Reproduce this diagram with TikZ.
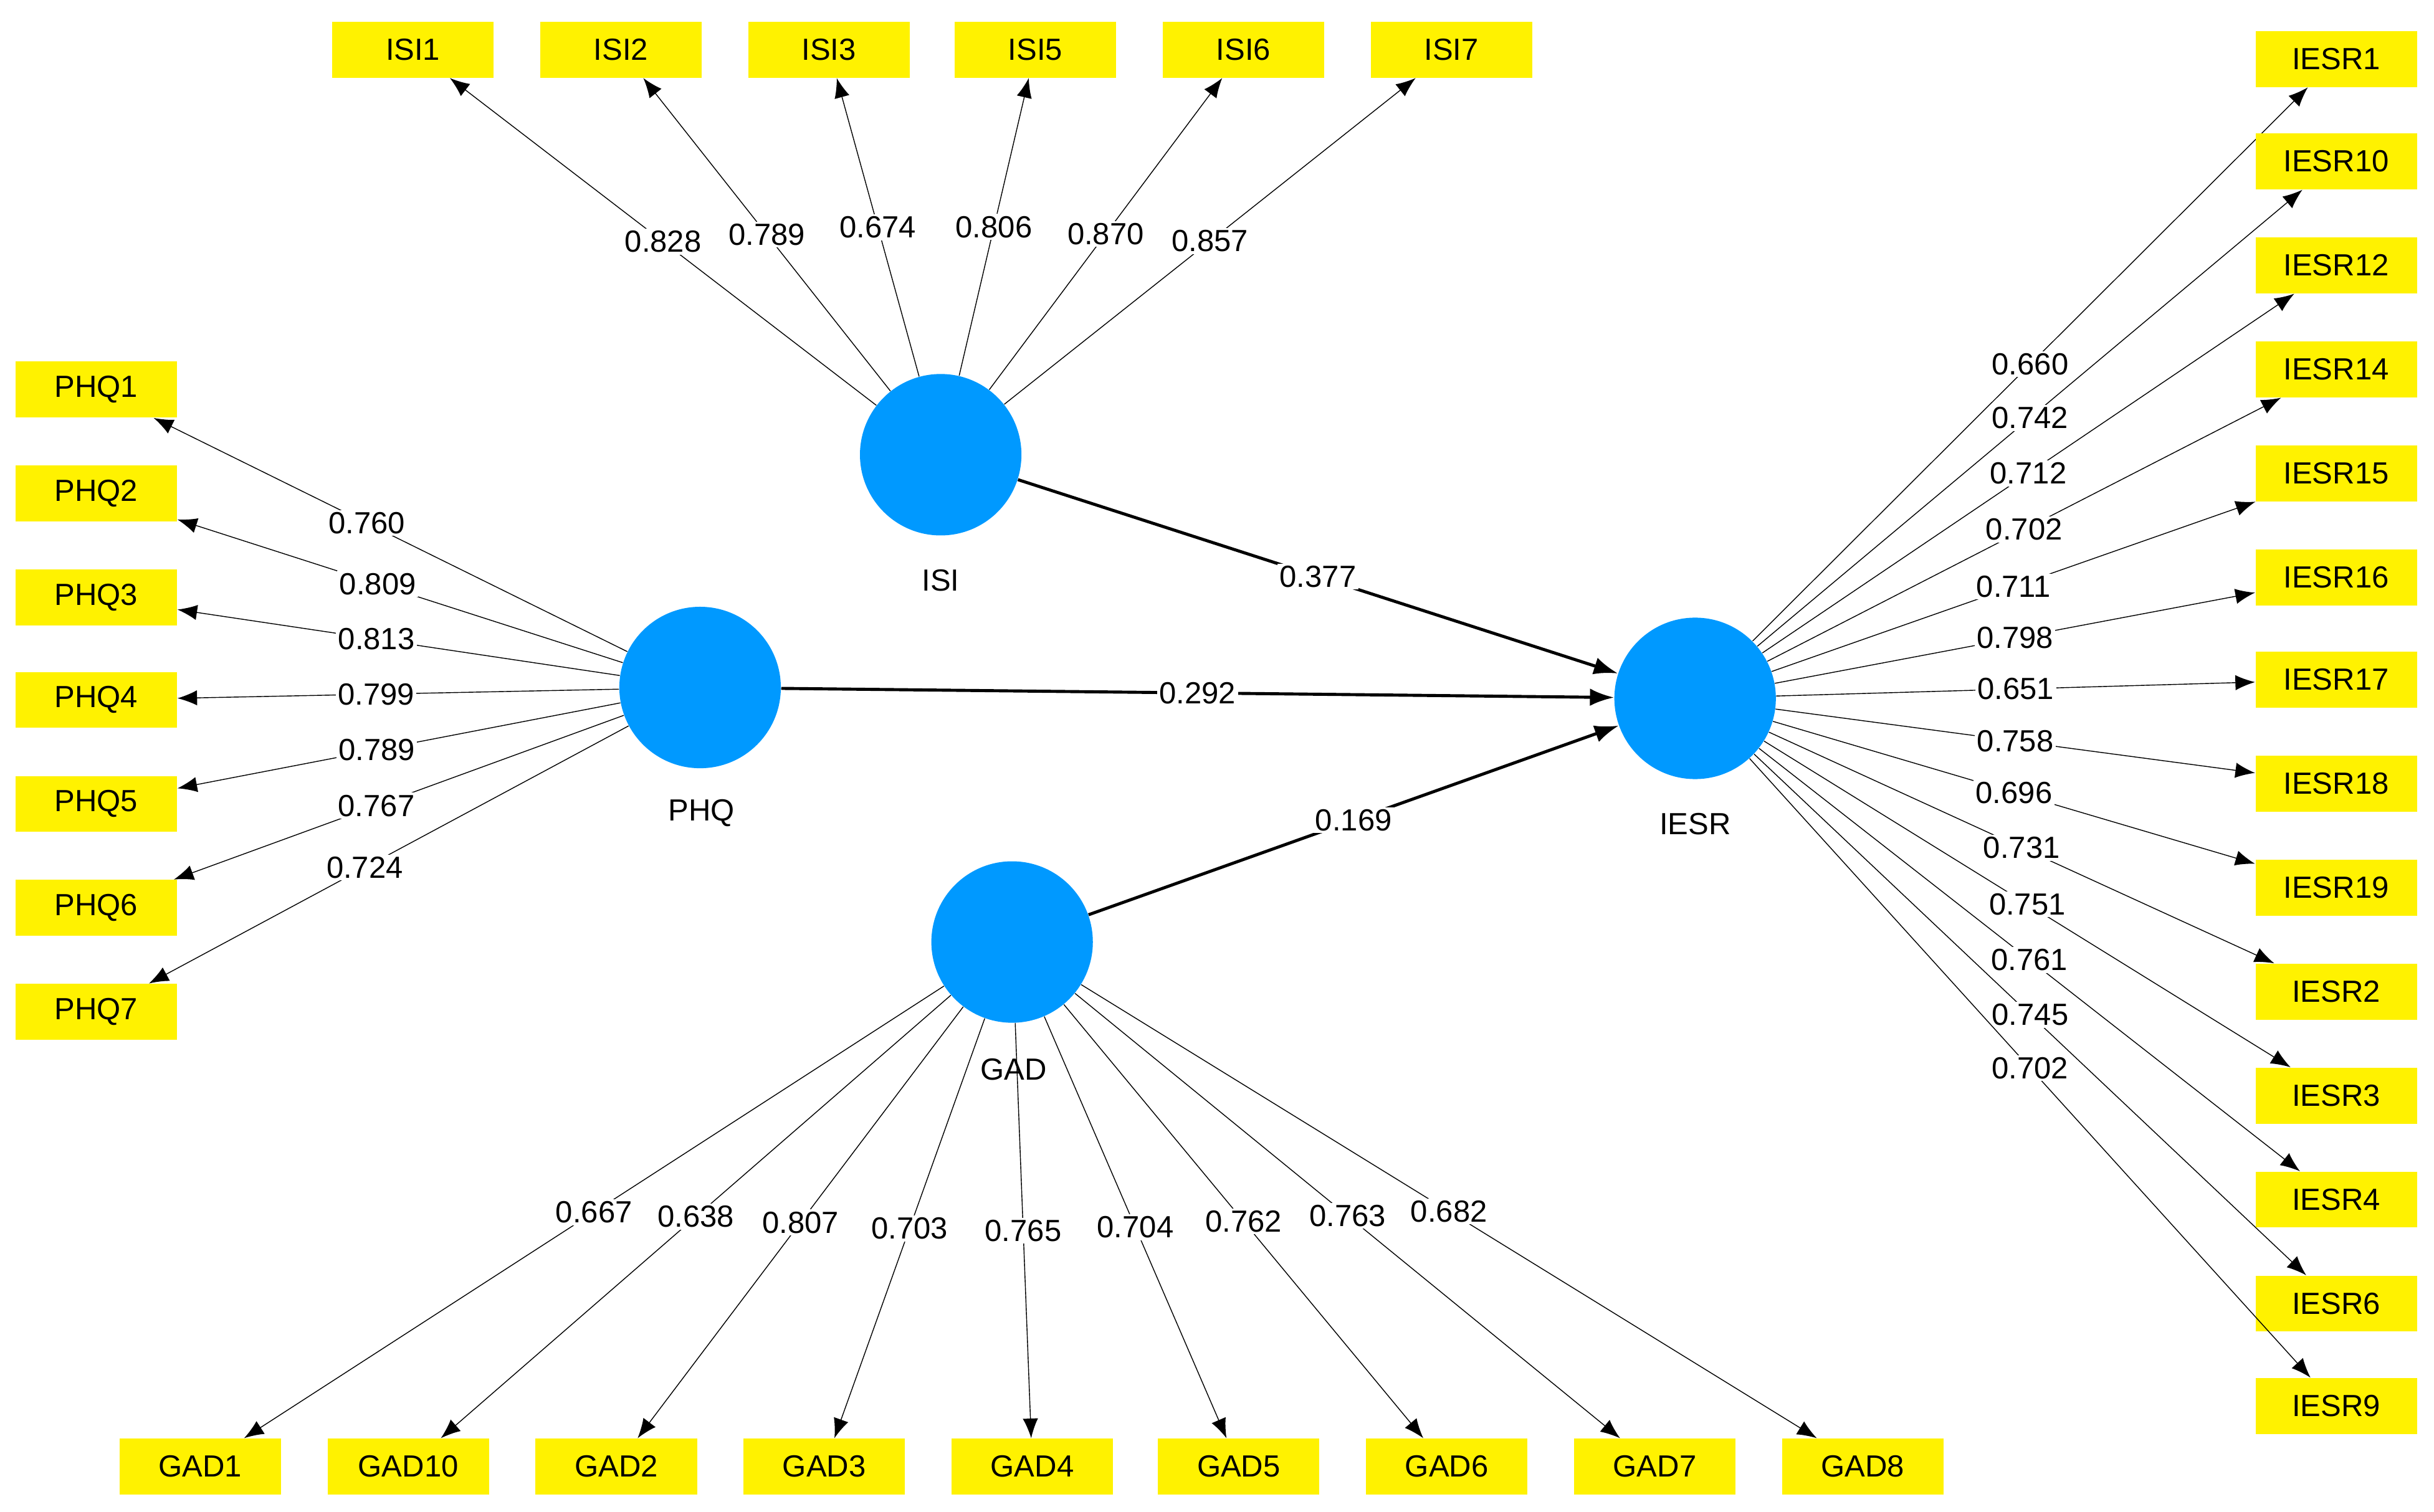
\documentclass[tikz,border=0pt]{standalone}
\usepackage{fontspec}
\setmainfont{Liberation Sans}
\usetikzlibrary{arrows.meta}
\definecolor{bleu}{RGB}{0,153,255}
\definecolor{jaune}{RGB}{255,242,0}
\begin{document}
\begin{tikzpicture}[x=0.025cm,y=-0.025cm]
			\tikzstyle{fleche}=[-{Latex[length=9pt,width=7pt]},thin]
			\tikzstyle{lien}=[-{Latex[length=11pt,width=8pt]},line width=1.4pt]
			\tikzstyle{noeud}=[circle,fill=bleu,minimum size=2.6cm,inner sep=0pt]
			\tikzstyle{feuille}=[fill=jaune,minimum width=2.6cm,minimum height=0.9cm,inner sep=0pt,font=\fontsize{14}{16}\selectfont]
			\tikzstyle{etiquette}=[fill=white,inner sep=1pt,font=\fontsize{14}{16}\selectfont]
			\tikzstyle{nom}=[font=\fontsize{14}{16}\selectfont]
			
			\useasboundingbox (0,0) rectangle (1568,974);
			
			\node[noeud] (ISI) at (606,293) {};
			\node[noeud] (PHQ) at (451,443) {};
			\node[noeud] (GAD) at (652,607) {};
			\node[noeud] (IESR) at (1092,450) {};
			\node[nom] at (606,374) {ISI};
			\node[nom] at (452,524) {PHQ};
			\node[nom] at (653,689) {GAD};
			\node[nom] at (1092,531) {IESR};
			
			% indicateurs ISI
			\foreach \n/\x/\v in {1/266/0.828,2/400/0.789,3/534/0.674,5/667/0.806,6/801/0.870,7/935/0.857}{
				\node[feuille] (ISI\n) at (\x,32) {ISI\n};
				\draw[fleche] (ISI)--(ISI\n) node[etiquette,pos=0.5] {\v};
			}
			% indicateurs PHQ
			\foreach \n/\y/\v in {1/251/0.760,2/318/0.809,3/385/0.813,4/451/0.799,5/518/0.789,6/585/0.767,7/652/0.724}{
				\node[feuille] (PHQ\n) at (62,\y) {PHQ\n};
				\draw[fleche] (PHQ)--(PHQ\n) node[etiquette,pos=0.55] {\v};
			}
			% indicateurs GAD
			\foreach \n/\x/\v in {1/129/0.667,10/263/0.638,2/397/0.807,3/531/0.703,4/665/0.765,5/798/0.704,6/932/0.762,7/1066/0.763,8/1200/0.682}{
				\node[feuille] (GAD\n) at (\x,945) {GAD\n};
				\draw[fleche] (GAD)--(GAD\n) node[etiquette,pos=0.5] {\v};
			}
			% indicateurs IESR
			\foreach \n/\y/\v in {1/38/0.660,10/104/0.742,12/171/0.712,14/238/0.702,15/305/0.711,16/372/0.798,17/438/0.651,18/505/0.758,19/572/0.696,2/639/0.731,3/706/0.751,4/773/0.761,6/840/0.745,9/906/0.702}{
				\node[feuille] (IESR\n) at (1505,\y) {IESR\n};
				\draw[fleche] (IESR)--(IESR\n) node[etiquette,pos=0.5] {\v};
			}
			
			\draw[lien] (ISI)--(IESR) node[etiquette,pos=0.5] {0.377};
			\draw[lien] (PHQ)--(IESR) node[etiquette,pos=0.5] {0.292};
			\draw[lien] (GAD)--(IESR) node[etiquette,pos=0.5] {0.169};
		\end{tikzpicture}
\end{document}
